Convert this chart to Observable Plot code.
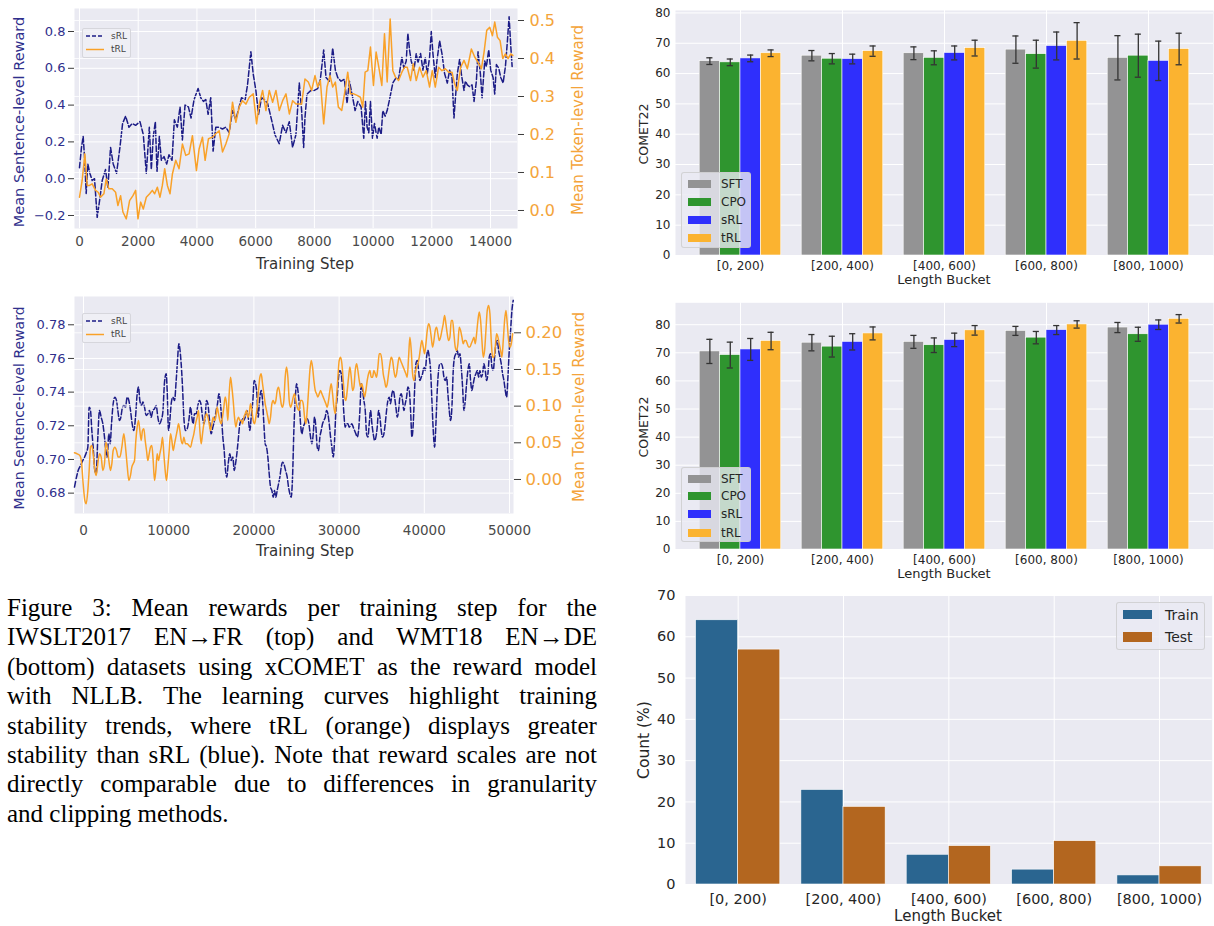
<!DOCTYPE html>
<html><head><meta charset="utf-8">
<script src="https://cdn.jsdelivr.net/npm/d3@7"></script>
<script src="https://cdn.jsdelivr.net/npm/@observablehq/plot@0.6"></script>
<style>
html,body{margin:0;padding:0;background:#fff;}
#fig{position:relative;width:1214px;height:926px;overflow:hidden;background:#fff;font-family:'DejaVu Sans',sans-serif;}
</style>
</head><body><div id="fig"></div>
<script>
// ---------------- DATA ----------------
// Learning curves, IWSLT2017 EN->FR (top-left)
const iwsltTicksX = [0, 2000, 4000, 6000, 8000, 10000, 12000, 14000];
const iwsltTicksS = [-0.2, 0.0, 0.2, 0.4, 0.6, 0.8];
const iwsltTicksT = [0.0, 0.1, 0.2, 0.3, 0.4, 0.5];
const iwsltSrlStep = [0,68,125,171,228,284,353,432,512,603,683,774,887,967,1058,1149,1263,1377,1468,1570,1684,1798,1912,2060,2173,2276,2378,2446,2514,2583,2640,2720,2788,2879,2970,3049,3152,3231,3333,3425,3504,3595,3709,3800,3902,4039,4130,4221,4301,4380,4471,4551,4642,4756,4869,4983,5097,5211,5324,5404,5518,5643,5723,5837,5916,6007,6098,6200,6291,6405,6542,6655,6803,6917,7031,7145,7258,7372,
7486,7566,7634,7679,7748,7884,7998,8112,8203,8317,8396,8510,8624,8715,8795,8908,9022,9113,9193,9307,9386,9477,9591,9682,9739,9796,9853,9910,9978,10046,10137,10194,10274,10331,10411,10479,10559,10672,10786,10866,10980,11048,11128,11184,11241,11298,11389,11469,11526,11617,11697,11776,11844,11924,11981,12038,12118,12174,12265,12345,12436,12527,12607,12687,12755,12800,12868,12948,13005,13096,13142,13210,13290,13369,13438,13517,13574,13654,13711,13802,13859,13938,14006,14086,14143,14200,14280,14348,14428,14507,14575,14632,14689,14735];
const iwsltSrlVal = [0.06,0.17,0.23,0.12,-0.08,0.08,0.03,-0.01,0.00,-0.21,-0.12,-0.01,0.05,-0.05,0.17,0.08,0.03,0.17,0.30,0.34,0.28,0.30,0.29,0.31,0.24,0.03,0.28,0.05,0.23,0.31,0.04,0.23,0.10,0.12,0.08,0.13,0.10,0.32,0.28,0.39,0.21,0.40,0.39,0.33,0.43,0.49,0.44,0.42,0.43,0.35,0.44,0.15,0.28,0.28,0.27,0.28,0.25,0.37,0.32,0.37,0.44,0.43,0.51,0.69,0.57,0.48,0.35,0.44,0.43,0.41,0.32,0.24,0.19,0.29,0.25,0.31,0.17,0.24,
0.52,0.37,0.17,0.33,0.46,0.48,0.48,0.49,0.54,0.70,0.55,0.53,0.71,0.59,0.55,0.53,0.54,0.41,0.53,0.44,0.37,0.42,0.39,0.22,0.42,0.28,0.25,0.42,0.22,0.30,0.22,0.28,0.24,0.37,0.34,0.37,0.43,0.52,0.55,0.54,0.66,0.60,0.64,0.79,0.70,0.64,0.59,0.68,0.63,0.68,0.59,0.66,0.57,0.66,0.80,0.68,0.55,0.64,0.75,0.68,0.57,0.52,0.59,0.55,0.33,0.43,0.57,0.65,0.57,0.48,0.53,0.51,0.50,0.51,0.42,0.53,0.69,0.57,0.44,0.64,0.61,0.70,0.59,0.55,0.46,0.62,0.60,0.55,0.52,0.61,0.75,0.88,0.72,0.61];
const iwsltTrlStep = [0,91,182,262,341,432,546,637,717,831,910,1001,1115,1229,1309,1400,1479,1593,1707,1821,1912,1992,2083,2173,2276,2390,2481,2560,2651,2742,2822,2902,2993,3084,3164,3277,3391,3505,3619,3733,3846,3983,4074,4188,4279,4393,4529,4643,4757,4871,4984,5098,5212,5326,5440,5553,5667,5781,5918,6031,6122,6236,6350,6464,6578,6691,6805,6919,7033,7147,7260,7374,
7566,7679,7793,7907,8021,8112,8203,8317,8430,8533,8624,8715,8817,8931,9045,9136,9227,9341,9455,9568,9648,9728,9819,9910,10012,10103,10194,10297,10388,10479,10581,10672,10763,10866,10980,11071,11162,11275,11366,11469,11583,11697,11810,11924,12015,12118,12231,12345,12459,12573,12687,12778,12868,12982,13096,13210,13347,13460,13574,13688,13779,13870,13973,14064,14143,14234,14325,14416,14507,14598,14689,14758];
const iwsltTrlVal = [0.035,0.079,0.149,0.066,0.066,0.07,0.053,0.048,0.035,0.044,0.083,0.057,0.057,0.048,0.013,0.039,-0.004,-0.022,0.026,0.039,0.053,-0.022,0.022,0.004,0.035,0.044,0.053,0.044,0.061,0.035,0.066,0.11,0.066,0.044,0.096,0.132,0.11,0.175,0.145,0.149,0.197,0.105,0.162,0.193,0.132,0.189,0.193,0.202,0.21,0.154,0.175,0.202,0.285,0.232,0.272,0.289,0.28,0.298,0.307,0.228,0.28,0.316,0.263,0.316,0.285,0.316,0.263,0.289,0.307,0.254,0.289,0.28,
0.28,0.346,0.338,0.316,0.355,0.325,0.342,0.228,0.325,0.355,0.325,0.338,0.272,0.263,0.316,0.364,0.307,0.307,0.303,0.298,0.272,0.364,0.368,0.43,0.329,0.417,0.377,0.329,0.465,0.338,0.504,0.368,0.351,0.342,0.364,0.377,0.377,0.342,0.386,0.342,0.377,0.351,0.368,0.325,0.368,0.325,0.377,0.368,0.373,0.364,0.364,0.333,0.316,0.377,0.395,0.373,0.425,0.404,0.39,0.373,0.417,0.474,0.482,0.46,0.496,0.456,0.447,0.40,0.412,0.40,0.412,0.408];

// Learning curves, WMT18 EN->DE (bottom-left)
const wmtTicksX = [0, 10000, 20000, 30000, 40000, 50000];
const wmtTicksS = [0.68, 0.70, 0.72, 0.74, 0.76, 0.78];
const wmtTicksT = [0.00, 0.05, 0.10, 0.15, 0.20];
const wmtSrlStep = [-1057,-822,-626,-352,-78,157,352,509,665,822,978,1135,1330,1487,1683,1878,2074,2270,2465,2622,2778,2974,3130,3287,3483,3678,3874,4030,4226,4383,4578,4735,4930,5126,5322,5517,5713,5909,6104,6300,6456,6613,6809,6965,7161,7356,7552,7748,7943,8139,8335,8530,8726,8922,9117,9313,9509,9704,9822,9978,10135,10291,10487,10682,10878,11035,11191,11309,11465,11622,11778,11974,12169,12365,12561,12717,12874,13030,13226,13422,13617,13774,13970,14126,14282,14439,14595,14791,14987,15182,15378,15574,15730,15887,16043,16200,16356,16513,16669,16826,16982,17178,17335,17530,17687,17843,18000,18156,18352,18508,18665,18822,18978,19174,19330,19526,19682,19878,20035,20191,20348,20504,20661,20856,21013,21170,21326,21483,21639,21796,21952,22109,22265,22422,22578,22735,22891,23048,23204,23361,23517,23713,23909,24065,24222,24378,24535,24691,
24889,25006,25163,25319,25476,25632,25789,25945,26102,26258,26454,26650,26806,26963,27119,27276,27432,27589,27745,27902,28058,28215,28371,28528,28684,28841,28998,29154,29311,29467,29624,29780,29937,30093,30250,30406,30563,30719,30876,31032,31189,31345,31502,31658,31815,31971,32128,32284,32441,32597,32754,32911,33067,33224,33380,33537,33693,33850,34006,34163,34319,34476,34632,34789,34945,35102,35258,35415,35571,35728,35884,36041,36197,36354,36510,36667,36824,36980,37137,37293,37450,37606,37763,37919,38076,38232,38389,38545,38702,38858,39015,39171,39328,39484,39641,39797,39954,40110,40267,40424,40580,40737,40893,41050,41206,41363,41519,41676,41832,41989,42145,42302,42458,42615,42771,42928,43084,43241,43397,43554,43711,43867,44024,44180,44337,44493,44650,44806,44963,45119,45276,45432,45589,45745,45902,46058,46215,46371,46528,46684,46841,46997,47154,47310,47467,47624,47780,47937,48093,48250,48406,48563,48719,48876,49032,49189,49345,49502,49658,49815,49971,50128,50284,50441];
const wmtSrlVal = [0.6836,0.6895,0.6935,0.6964,0.6994,0.7018,0.7044,0.7073,0.7311,0.7291,0.7172,0.7073,0.6935,0.6915,0.7133,0.7291,0.7251,0.7212,0.7133,0.7053,0.7014,0.7152,0.7093,0.7212,0.7331,0.7370,0.7350,0.7291,0.7232,0.7251,0.7311,0.7321,0.7311,0.7370,0.7350,0.7291,0.7212,0.7172,0.7251,0.7390,0.7430,0.7350,0.7321,0.7341,0.7311,0.7261,0.7271,0.7291,0.7251,0.7291,0.7301,0.7321,0.7251,0.7212,0.7232,0.7281,0.7459,0.7509,0.7410,0.7172,0.7232,0.7331,0.7370,0.7350,0.7469,0.7588,0.7687,0.7657,0.7568,0.7430,0.7251,0.7172,0.7182,0.7232,0.7311,0.7251,0.7212,0.7271,0.7271,0.7321,0.7350,0.7331,0.7251,0.7212,0.7251,0.7350,0.7331,0.7232,0.7152,0.7192,0.7232,0.7291,0.7331,0.7390,0.7350,0.7251,0.7133,0.7053,0.6935,0.6895,0.6974,0.7034,0.6994,0.7014,0.6935,0.6974,0.7034,0.7113,0.7212,0.7232,0.7242,0.7232,0.7251,0.7291,0.7251,0.7172,0.7251,0.7350,0.7469,0.7450,0.7390,0.7251,0.7350,0.7410,0.7350,0.7212,0.7093,0.7073,0.7014,0.6915,0.6836,0.6816,0.6776,0.6816,0.6776,0.6816,0.6855,0.6895,0.6954,0.6984,0.6974,0.6935,0.6895,0.6836,0.6796,0.6776,0.6895,0.7172,
0.7390,0.7450,0.7410,0.7331,0.7212,0.7152,0.7192,0.7212,0.7242,0.7242,0.7212,0.7133,0.7093,0.7152,0.7251,0.7192,0.7073,0.7053,0.7133,0.7172,0.7212,0.7232,0.7251,0.7291,0.7271,0.7212,0.7133,0.7073,0.7014,0.7113,0.7291,0.7370,0.7489,0.7529,0.7509,0.7410,0.7271,0.7192,0.7212,0.7212,0.7192,0.7202,0.7212,0.7192,0.7172,0.7152,0.7133,0.7172,0.7291,0.7450,0.7410,0.7350,0.7291,0.7152,0.7133,0.7212,0.7291,0.7212,0.7152,0.7113,0.7133,0.7192,0.7291,0.7251,0.7172,0.7133,0.7152,0.7212,0.7291,0.7350,0.7370,0.7331,0.7390,0.7410,0.7370,0.7311,0.7251,0.7291,0.7370,0.7390,0.7350,0.7291,0.7331,0.7370,0.7430,0.7410,0.7291,0.7133,0.7212,0.7410,0.7568,0.7588,0.7529,0.7469,0.7489,0.7509,0.7549,0.7529,0.7608,0.7648,0.7608,0.7529,0.7350,0.7172,0.7073,0.7212,0.7410,0.7529,0.7568,0.7568,0.7549,0.7489,0.7469,0.7489,0.7390,0.7291,0.7232,0.7311,0.7529,0.7608,0.7628,0.7648,0.7608,0.7628,0.7549,0.7430,0.7291,0.7350,0.7450,0.7529,0.7568,0.7469,0.7410,0.7450,0.7489,0.7509,0.7529,0.7489,0.7529,0.7489,0.7509,0.7568,0.7529,0.7469,0.7509,0.7608,0.7628,0.7549,0.7529,0.7608,0.7687,0.7707,0.7648,0.7608,0.7568,0.7509,0.7469,0.7410,0.7370,0.7489,0.7648,0.7766,0.7885,0.7945];
const wmtTrlStep = [-1057,-743,-430,-235,-39,157,313,509,665,822,978,1135,1330,1487,1683,1878,2074,2270,2465,2622,2778,2974,3170,3326,3483,3678,3874,4070,4265,4500,4735,4930,5126,5322,5517,5674,5830,5987,6143,6300,6456,6613,6769,6926,7083,7239,7396,7552,7709,7865,8022,8178,8335,8491,8648,8804,8961,9117,9274,9430,9587,9743,9900,10057,10213,10370,10526,10683,10839,10996,11152,11309,11465,11622,11778,11974,12169,12365,12561,12757,12952,13148,13343,13500,13657,13813,13970,14126,14282,14439,14595,14752,14908,15065,15221,15378,15535,15691,15848,16004,16161,16317,16474,16630,16787,16943,17100,17256,17413,17569,17726,17882,18039,18195,18352,18508,18665,18822,18978,19135,19291,19448,19604,19761,19917,20074,20230,20387,20543,20700,20856,21013,21170,21326,21483,21639,21796,21952,22109,22265,22422,22578,22735,22891,23048,23204,23361,23517,23674,23830,23987,24143,24300,24457,24613,24770,24926,25083,25317,25474,
25632,25789,25945,26102,26258,26415,26571,26728,26884,27041,27198,27354,27511,27667,27824,27980,28137,28293,28450,28606,28763,28919,29076,29232,29389,29545,29702,29858,30015,30171,30328,30485,30641,30798,30954,31111,31267,31424,31580,31737,31893,32050,32206,32363,32519,32676,32832,32989,33145,33302,33458,33615,33771,33928,34084,34241,34397,34554,34710,34867,35023,35180,35337,35493,35650,35806,35963,36119,36276,36432,36589,36745,36902,37058,37215,37371,37528,37684,37841,37997,38154,38310,38467,38624,38780,38937,39093,39250,39406,39563,39719,39876,40032,40189,40345,40502,40658,40815,40971,41128,41284,41441,41597,41754,41910,42067,42223,42380,42536,42693,42850,43006,43163,43319,43476,43632,43789,43945,44102,44258,44415,44571,44728,44884,45041,45197,45354,45510,45667,45823,45980,46136,46293,46449,46606,46763,46919,47076,47232,47389,47545,47702,47858,48015,48171,48328,48484,48641,48797,48954,49110,49267,49424,49580,49737,49893,50050,50206,50363];
const wmtTrlVal = [0.0364,0.0350,0.0327,0.0236,-0.0059,-0.0286,-0.0332,-0.0150,0.0123,0.0441,0.0464,0.0350,0.0123,0.0055,0.0214,0.0350,0.0305,0.0123,0.0214,0.0509,0.0441,0.0259,0.0123,0.0214,0.0395,0.0441,0.0395,0.0305,0.0305,0.0441,0.0623,0.0441,0.0191,-0.0014,0.0055,0.0168,0.0214,0.0259,0.0532,0.0714,0.0805,0.0668,0.0532,0.0668,0.0691,0.0532,0.0395,0.0259,0.0350,0.0441,0.0464,0.0259,-0.0014,0.0123,0.0350,0.0259,0.0350,0.0441,0.0577,0.0350,0.0123,-0.0014,0.0168,0.0395,0.0623,0.0532,0.0395,0.0486,0.0577,0.0668,0.0759,0.0668,0.0532,0.0486,0.0577,0.0486,0.0486,0.0464,0.0441,0.0532,0.0623,0.0759,0.0850,0.0941,0.0668,0.0486,0.0623,0.0759,0.0850,0.0895,0.0850,0.0759,0.0668,0.0759,0.0850,0.0805,0.0850,0.0986,0.0895,0.0805,0.0759,0.0850,0.0986,0.1123,0.1032,0.0805,0.1168,0.1395,0.1259,0.1077,0.0850,0.0714,0.0805,0.0850,0.0805,0.0805,0.0759,0.0850,0.0895,0.0941,0.0850,0.0895,0.1032,0.0941,0.0805,0.0759,0.0850,0.0986,0.1214,0.1395,0.1441,0.1305,0.1168,0.1032,0.0941,0.0850,0.0759,0.0850,0.1032,0.1077,0.1032,0.1077,0.1214,0.1259,0.1168,0.1032,0.0986,0.1077,0.1395,0.1532,0.1395,0.1077,0.0986,0.1032,0.1123,0.1168,0.1077,0.0986,0.0941,0.1077,
0.1077,0.1032,0.0850,0.0759,0.0941,0.1214,0.1486,0.1623,0.1532,0.1350,0.1214,0.1168,0.1123,0.1168,0.1214,0.1168,0.1123,0.1077,0.1032,0.0986,0.1077,0.1214,0.1305,0.1168,0.0986,0.0895,0.1123,0.1395,0.1623,0.1668,0.1577,0.1350,0.1123,0.1077,0.1214,0.1395,0.1532,0.1395,0.1214,0.1259,0.1486,0.1577,0.1486,0.1350,0.1259,0.1305,0.1214,0.1123,0.1214,0.1350,0.1441,0.1486,0.1395,0.1395,0.1486,0.1441,0.1395,0.1532,0.1714,0.1714,0.1623,0.1441,0.1350,0.1259,0.1305,0.1441,0.1577,0.1668,0.1623,0.1486,0.1395,0.1441,0.1577,0.1668,0.1623,0.1577,0.1532,0.1486,0.1441,0.1395,0.1668,0.1941,0.1759,0.1441,0.1350,0.1441,0.1532,0.1577,0.1668,0.1805,0.1895,0.1805,0.1714,0.1850,0.2032,0.2123,0.2077,0.1941,0.1805,0.1895,0.2032,0.2077,0.1986,0.1895,0.1941,0.2032,0.2123,0.2236,0.2123,0.1986,0.1895,0.1941,0.2168,0.2168,0.1986,0.1805,0.1759,0.1850,0.2077,0.2032,0.1941,0.1850,0.1895,0.1895,0.1850,0.1805,0.1805,0.1850,0.1895,0.1941,0.1850,0.1986,0.2168,0.2282,0.2168,0.1895,0.1668,0.1759,0.2032,0.2305,0.2373,0.2259,0.1895,0.1668,0.1668,0.1805,0.1986,0.1941,0.1850,0.1759,0.1668,0.1895,0.2168,0.2305,0.2123,0.1895,0.1805,0.1850,0.1986];

// COMET22 by length bucket
const buckets = ["[0, 200)", "[200, 400)", "[400, 600)", "[600, 800)", "[800, 1000)"];
const methods = ["SFT", "CPO", "sRL", "tRL"];
const methodColors = ["#939394", "#2f952f", "#2f2ffc", "#fbb330"];
const cometTicksA = [0, 10, 20, 30, 40, 50, 60, 70, 80];
const cometTicksB = [0, 10, 20, 30, 40, 50, 60, 70, 80];
// top-right panel
const aSFT = [64.1, 65.9, 66.7, 67.9, 65.2], aSFTErr = [1.1, 1.7, 2.1, 4.5, 7.3];
const aCPO = [63.7, 64.9, 65.2, 66.4, 65.9], aCPOErr = [1.1, 1.7, 2.3, 4.6, 7.1];
const aSRL = [65.0, 64.8, 66.8, 69.1, 64.2], aSRLErr = [1.1, 1.6, 2.3, 4.6, 6.5];
const aTRL = [66.7, 67.4, 68.4, 70.8, 68.1], aTRLErr = [1.1, 1.7, 2.6, 6.0, 5.2];
// middle-right panel
const bSFT = [70.5, 73.6, 73.9, 77.8, 79.0], bSFTErr = [4.3, 2.9, 2.3, 1.6, 1.8];
const bCPO = [69.2, 72.2, 72.7, 75.4, 76.6], bCPOErr = [4.6, 3.7, 2.6, 2.2, 2.5];
const bSRL = [71.2, 73.9, 74.6, 78.1, 80.0], bSRLErr = [3.9, 2.9, 2.4, 1.6, 1.7];
const bTRL = [74.2, 76.9, 78.0, 80.1, 82.1], bTRLErr = [3.1, 2.3, 1.7, 1.3, 1.5];
// Length distribution (bottom-right)
const splits = ["Train", "Test"];
const splitColors = ["#2a6590", "#b3661f"];
const countTicks = [0, 10, 20, 30, 40, 50, 60, 70];
const trainPct = [64.0, 22.9, 7.2, 3.6, 2.2];
const testPct = [56.9, 18.8, 9.3, 10.5, 4.4];

const captionLines = [
  "Figure 3: Mean rewards per training step for the",
  "IWSLT2017 EN\u2192FR (top) and WMT18 EN\u2192DE",
  "(bottom) datasets using xCOMET as the reward model",
  "with NLLB. The learning curves highlight training",
  "stability trends, where tRL (orange) displays greater",
  "stability than sRL (blue). Note that reward scales are not",
  "directly comparable due to differences in granularity",
  "and clipping methods."
];

// ---------------- STYLE ----------------
const BG = "#eaeaf2";
const NAVY = "#1c1c86", NAVY_T = "#2f2f8c";
const ORANGE = "#f9a128", ORANGE_T = "#f4a43a";
const FONT = "'DejaVu Sans', sans-serif";
const fig = document.getElementById("fig");

function addSvg(node, left, top) {
  node.style.position = "absolute";
  node.style.left = left + "px";
  node.style.top = top + "px";
  fig.appendChild(node);
}
function addText(txt, x, y, o = {}) {
  const d = document.createElement("div");
  d.textContent = txt;
  d.style.cssText = `position:absolute;left:${x}px;top:${y}px;white-space:nowrap;font-family:${o.family || FONT};font-size:${o.size || 13}px;color:${o.color || "#262626"};line-height:1;transform:translate(-50%,-50%)${o.rotate ? " rotate(-90deg)" : ""};`;
  fig.appendChild(d);
}

function lineChart(c) {
  const common = {
    width: c.width, height: c.height, marginTop: c.mt, marginRight: c.mr, marginBottom: c.mb, marginLeft: c.ml,
    style: {background: "transparent", fontFamily: FONT, overflow: "visible"}
  };
  const sData = c.sStep.map((s, i) => ({step: s, value: c.sVal[i]}));
  const tData = c.tStep.map((s, i) => ({step: s, value: c.tVal[i]}));
  const base = Plot.plot({
    ...common,
    x: {domain: c.xDomain},
    y: {domain: c.yDomain},
    marks: [
      Plot.frame({fill: BG, stroke: "none"}),
      Plot.ruleX(c.xTicks, {stroke: "white", strokeWidth: 1}),
      Plot.ruleY(c.yTicks, {stroke: "white", strokeWidth: 1}),
      Plot.axisX({ticks: c.xTicks, tickFormat: d3.format("d"), tickSize: 0, tickPadding: c.xPad, fontSize: c.xSize, color: "#4a4a4a", label: null}),
      Plot.axisY({ticks: c.yTicks, tickFormat: d3.format(c.yFmt), tickSize: 6, tickPadding: 3, fontSize: c.ySize, color: NAVY_T, stroke: "#3c3c3c", label: null}),
      Plot.lineY(sData, {x: "step", y: "value", stroke: NAVY, strokeWidth: 1.5, strokeDasharray: "5.5,2.4", curve: c.curve})
    ]
  });
  const over = Plot.plot({
    ...common,
    x: {domain: c.xDomain, axis: null},
    y: {domain: c.y2Domain},
    marks: [
      Plot.ruleY(c.y2Ticks, {stroke: "white", strokeWidth: 1, strokeOpacity: 0.8}),
      Plot.axisY({anchor: "right", ticks: c.y2Ticks, tickFormat: d3.format(c.y2Fmt), tickSize: c.y2TickSize, tickPadding: c.y2Pad, fontSize: c.y2Size, color: ORANGE_T, stroke: "#3c3c3c", label: null}),
      Plot.lineY(tData, {x: "step", y: "value", stroke: ORANGE, strokeWidth: 1.5, curve: c.curve})
    ]
  });
  addSvg(base, c.left, c.top);
  addSvg(over, c.left, c.top);
}

function lineLegend(left, top) {
  const d = document.createElement("div");
  d.style.cssText = `position:absolute;left:${left}px;top:${top}px;width:47px;height:28px;background:rgba(240,240,246,0.85);border:1px solid #d6d6dc;border-radius:2px;`;
  d.innerHTML = `<svg width="47" height="28" style="position:absolute;left:0;top:0">
    <line x1="3" x2="21" y1="7" y2="7" stroke="${NAVY}" stroke-width="1.5" stroke-dasharray="4,2"/>
    <line x1="3" x2="21" y1="20.5" y2="20.5" stroke="${ORANGE}" stroke-width="1.5"/></svg>
    <span style="position:absolute;left:28px;top:2px;font:9px ${FONT};color:#444">sRL</span>
    <span style="position:absolute;left:28px;top:15px;font:9px ${FONT};color:#444">tRL</span>`;
  fig.appendChild(d);
}

function patchLegend(left, top, w, h, names, colors, o) {
  const d = document.createElement("div");
  d.style.cssText = `position:absolute;left:${left}px;top:${top}px;width:${w}px;height:${h}px;background:rgba(234,234,242,0.8);border:1px solid rgba(204,204,204,0.8);border-radius:3px;box-sizing:border-box;`;
  names.forEach((n, i) => {
    const p = document.createElement("div");
    p.style.cssText = `position:absolute;left:${o.px}px;top:${o.rows[i] - o.ph / 2}px;width:${o.pw}px;height:${o.ph}px;background:${colors[i]};`;
    d.appendChild(p);
    const t = document.createElement("div");
    t.textContent = n;
    t.style.cssText = `position:absolute;left:${o.tx}px;top:${o.rows[i]}px;transform:translateY(-50%);font:${o.size}px ${FONT};color:#262626;line-height:1;white-space:nowrap;`;
    d.appendChild(t);
  });
  fig.appendChild(d);
}

function cometChart(c) {
  const series = [[c.SFT, c.SFTErr], [c.CPO, c.CPOErr], [c.SRL, c.SRLErr], [c.TRL, c.TRLErr]];
  const rows = [];
  buckets.forEach((b, i) => {
    methods.forEach((m, k) => {
      const mean = series[k][0][i], err = series[k][1][i];
      const xc = i - 0.3 + 0.2 * k;
      rows.push({method: m, x1: xc - 0.1, x2: xc + 0.1, xc, c1: xc - 0.03, c2: xc + 0.03, mean, lo: mean - err, hi: mean + err});
    });
  });
  const chart = Plot.plot({
    width: 594, height: c.height, marginTop: c.mt, marginRight: 1, marginBottom: c.mb, marginLeft: 55,
    style: {background: "transparent", fontFamily: FONT, overflow: "visible"},
    x: {domain: [-0.637, 4.637]},
    y: {domain: c.yDomain},
    color: {domain: methods, range: methodColors},
    marks: [
      Plot.frame({fill: BG, stroke: "none"}),
      Plot.ruleY(c.yTicks, {stroke: "white", strokeWidth: 1}),
      Plot.ruleX(d3.range(buckets.length), {stroke: "white", strokeWidth: 1}),
      Plot.rect(rows, {x1: "x1", x2: "x2", y1: 0, y2: "mean", fill: "method", stroke: "white", strokeWidth: 0.6}),
      Plot.ruleX(rows, {x: "xc", y1: "lo", y2: "hi", stroke: "#333", strokeWidth: 1.3}),
      Plot.ruleY(rows, {y: "lo", x1: "c1", x2: "c2", stroke: "#333", strokeWidth: 1.3}),
      Plot.ruleY(rows, {y: "hi", x1: "c1", x2: "c2", stroke: "#333", strokeWidth: 1.3}),
      Plot.axisX({ticks: d3.range(buckets.length), tickFormat: i => buckets[i], tickSize: 0, tickPadding: 6, fontSize: 12, color: "#262626", label: null}),
      Plot.axisY({ticks: c.yTicks, tickFormat: d3.format("d"), tickSize: 0, tickPadding: 5, fontSize: 12, color: "#262626", label: null})
    ]
  });
  addSvg(chart, 620, c.top);
}

// ---------------- LINE CHARTS ----------------
lineChart({
  left: 0, top: 0, width: 600, height: 280, ml: 74, mr: 83, mt: 8, mb: 52,
  xDomain: [-170, 14918], xTicks: iwsltTicksX, xPad: 8, xSize: 13.5,
  yDomain: [-0.2707, 0.925], yTicks: iwsltTicksS, yFmt: ".1f", ySize: 13,
  y2Domain: [-0.0474, 0.5316], y2Ticks: iwsltTicksT, y2Fmt: ".1f", y2Size: 16, y2TickSize: 6, y2Pad: 6,
  sStep: iwsltSrlStep, sVal: iwsltSrlVal, tStep: iwsltTrlStep, tVal: iwsltTrlVal, curve: "linear"
});
lineChart({
  left: 0, top: 290, width: 600, height: 280, ml: 74, mr: 87, mt: 6, mb: 57,
  xDomain: [-1056, 50469], xTicks: wmtTicksX, xPad: 12, xSize: 13.5,
  yDomain: [0.6679, 0.7968], yTicks: wmtTicksS, yFmt: ".2f", ySize: 13,
  y2Domain: [-0.0464, 0.2495], y2Ticks: wmtTicksT, y2Fmt: ".2f", y2Size: 16.5, y2TickSize: 7, y2Pad: 5,
  sStep: wmtSrlStep, sVal: wmtSrlVal, tStep: wmtTrlStep, tVal: wmtTrlVal, curve: "monotone-x"
});
lineLegend(82, 28);
lineLegend(82, 313);
addText("Mean Sentence-level Reward", 19, 122, {size: 14.5, color: NAVY_T, rotate: true});
addText("Mean Token-level Reward", 578, 120, {size: 15, color: ORANGE_T, rotate: true});
addText("Training Step", 305, 264, {size: 15, color: "#333"});
addText("Mean Sentence-level Reward", 19, 408, {size: 14, color: NAVY_T, rotate: true});
addText("Mean Token-level Reward", 579, 407, {size: 15, color: ORANGE_T, rotate: true});
addText("Training Step", 305, 551, {size: 15, color: "#333"});

// ---------------- COMET CHARTS ----------------
cometChart({top: 0, height: 290, mt: 10, mb: 35, yDomain: [0, 80.8], yTicks: cometTicksA,
  SFT: aSFT, SFTErr: aSFTErr, CPO: aCPO, CPOErr: aCPOErr, SRL: aSRL, SRLErr: aSRLErr, TRL: aTRL, TRLErr: aTRLErr});
cometChart({top: 290, height: 300, mt: 12.3, mb: 41, yDomain: [0, 87.8], yTicks: cometTicksB,
  SFT: bSFT, SFTErr: bSFTErr, CPO: bCPO, CPOErr: bCPOErr, SRL: bSRL, SRLErr: bSRLErr, TRL: bTRL, TRLErr: bTRLErr});
patchLegend(681, 172, 70, 76, methods, methodColors, {px: 6, pw: 23, ph: 8, tx: 39, size: 12, rows: [11, 29, 47, 65]});
patchLegend(681, 467, 70, 75, methods, methodColors, {px: 6, pw: 23, ph: 8, tx: 39, size: 12, rows: [11, 28, 46, 65]});
addText("COMET22", 644, 134, {size: 12.5, rotate: true});
addText("Length Bucket", 944, 279, {size: 13});
addText("COMET22", 644, 427, {size: 12.5, rotate: true});
addText("Length Bucket", 944, 573, {size: 13});

// ---------------- COUNT CHART ----------------
{
  const rows = [];
  buckets.forEach((b, i) => {
    rows.push({split: "Train", x1: i - 0.4, x2: i, pct: trainPct[i]});
    rows.push({split: "Test", x1: i, x2: i + 0.4, pct: testPct[i]});
  });
  const chart = Plot.plot({
    width: 594, height: 341, marginTop: 10, marginRight: 2.3, marginBottom: 42, marginLeft: 65,
    style: {background: "transparent", fontFamily: FONT, overflow: "visible"},
    x: {domain: [-0.5, 4.5]},
    y: {domain: [0, 70]},
    color: {domain: splits, range: splitColors},
    marks: [
      Plot.frame({fill: BG, stroke: "none"}),
      Plot.ruleY(countTicks, {stroke: "white", strokeWidth: 1}),
      Plot.ruleX(d3.range(buckets.length), {stroke: "white", strokeWidth: 1}),
      Plot.rect(rows, {x1: "x1", x2: "x2", y1: 0, y2: "pct", fill: "split", stroke: "white", strokeWidth: 0.6}),
      Plot.axisX({ticks: d3.range(buckets.length), tickFormat: i => buckets[i], tickSize: 0, tickPadding: 9, fontSize: 14.5, color: "#262626", label: null}),
      Plot.axisY({ticks: countTicks, tickFormat: d3.format("d"), tickSize: 0, tickPadding: 10, fontSize: 14.5, color: "#262626", label: null})
    ]
  });
  addSvg(chart, 620, 585);
  patchLegend(1116, 602, 89, 48, splits, splitColors, {px: 6, pw: 29, ph: 9.5, tx: 48, size: 14, rows: [11.5, 34]});
  addText("Count (%)", 645, 740, {size: 15.5, rotate: true});
  addText("Length Bucket", 948, 916, {size: 15});
}

// ---------------- CAPTION ----------------
{
  const cap = document.createElement("div");
  cap.style.cssText = "position:absolute;left:7px;top:593px;width:590px;font-family:'Liberation Serif','Times New Roman',serif;font-size:25px;line-height:29.4px;color:#000;";
  captionLines.forEach((ln, i) => {
    const row = document.createElement("div");
    if (i < captionLines.length - 1) {
      row.style.cssText = "display:flex;justify-content:space-between;white-space:nowrap;height:29.4px;";
      ln.split(" ").forEach(w => { const s = document.createElement("span"); s.textContent = w; row.appendChild(s); });
    } else {
      row.style.cssText = "white-space:nowrap;height:29.4px;";
      row.textContent = ln;
    }
    cap.appendChild(row);
  });
  fig.appendChild(cap);
}
</script>
</body></html>
